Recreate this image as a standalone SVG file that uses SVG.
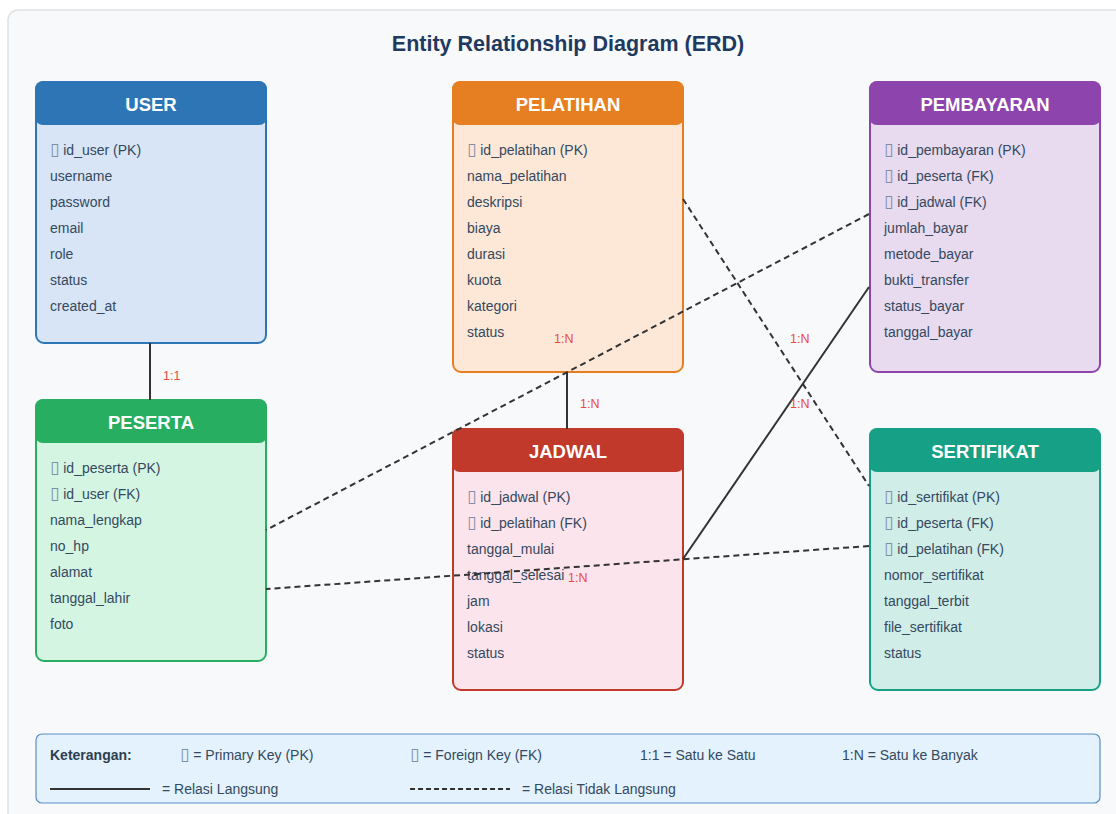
<svg xmlns="http://www.w3.org/2000/svg" width="1116" height="814" viewBox="0 0 1116 814">
<style>
.title{font-family:"Liberation Sans",Arial,sans-serif;font-size:21.5px;font-weight:bold;fill:#1f3a5f}
.hdr{font-family:"Liberation Sans",Arial,sans-serif;font-size:18.5px;font-weight:bold;fill:#ffffff}
.row{font-family:"Liberation Sans",Arial,sans-serif;font-size:14px;fill:#34495e}
.lbl{font-family:"Liberation Sans",Arial,sans-serif;font-size:12.5px;fill:#e74c3c}
.leg{font-family:"Liberation Sans",Arial,sans-serif;font-size:14px;fill:#34495e}
.legb{font-family:"Liberation Sans",Arial,sans-serif;font-size:14px;font-weight:bold;fill:#2c3e50}
.k{font-family:"DejaVu Sans",sans-serif;fill:#7f8fa6;font-size:17px}
.solid{stroke:#333;stroke-width:2;fill:none}
.dash{stroke:#333;stroke-width:2;fill:none;stroke-dasharray:6,4}
</style>
<rect x="0" y="0" width="1116" height="814" fill="#ffffff"/>
<rect x="8" y="10" width="1130" height="830" rx="10" fill="#f8f9fa" stroke="#dee2e6" stroke-width="1.5"/>
<text class="title" x="568" y="51" text-anchor="middle">Entity Relationship Diagram (ERD)</text>

<g id="user">
<rect x="36" y="82" width="230" height="261" rx="8" fill="#d7e5f6" stroke="#2e75b6" stroke-width="2"/>
<rect x="35" y="81" width="232" height="44" rx="8" fill="#2e75b6"/>
<text class="hdr" x="151" y="111" text-anchor="middle">USER</text>
<text class="row" x="50" y="155"><tspan class="k">▯</tspan> id_user (PK)</text>
<text class="row" x="50" y="181">username</text>
<text class="row" x="50" y="207">password</text>
<text class="row" x="50" y="233">email</text>
<text class="row" x="50" y="259">role</text>
<text class="row" x="50" y="285">status</text>
<text class="row" x="50" y="311">created_at</text>
</g>

<g id="pelatihan">
<rect x="453" y="82" width="230" height="290" rx="8" fill="#fde8d8" stroke="#e67e22" stroke-width="2"/>
<rect x="452" y="81" width="232" height="44" rx="8" fill="#e67e22"/>
<text class="hdr" x="568" y="111" text-anchor="middle">PELATIHAN</text>
<text class="row" x="467" y="155"><tspan class="k">▯</tspan> id_pelatihan (PK)</text>
<text class="row" x="467" y="181">nama_pelatihan</text>
<text class="row" x="467" y="207">deskripsi</text>
<text class="row" x="467" y="233">biaya</text>
<text class="row" x="467" y="259">durasi</text>
<text class="row" x="467" y="285">kuota</text>
<text class="row" x="467" y="311">kategori</text>
<text class="row" x="467" y="337">status</text>
</g>

<g id="pembayaran">
<rect x="870" y="82" width="230" height="290" rx="8" fill="#e8daef" stroke="#8e44ad" stroke-width="2"/>
<rect x="869" y="81" width="232" height="44" rx="8" fill="#8e44ad"/>
<text class="hdr" x="985" y="111" text-anchor="middle">PEMBAYARAN</text>
<text class="row" x="884" y="155"><tspan class="k">▯</tspan> id_pembayaran (PK)</text>
<text class="row" x="884" y="181"><tspan class="k">▯</tspan> id_peserta (FK)</text>
<text class="row" x="884" y="207"><tspan class="k">▯</tspan> id_jadwal (FK)</text>
<text class="row" x="884" y="233">jumlah_bayar</text>
<text class="row" x="884" y="259">metode_bayar</text>
<text class="row" x="884" y="285">bukti_transfer</text>
<text class="row" x="884" y="311">status_bayar</text>
<text class="row" x="884" y="337">tanggal_bayar</text>
</g>

<g id="peserta">
<rect x="36" y="400" width="230" height="261" rx="8" fill="#d5f5e3" stroke="#27ae60" stroke-width="2"/>
<rect x="35" y="399" width="232" height="44" rx="8" fill="#27ae60"/>
<text class="hdr" x="151" y="429" text-anchor="middle">PESERTA</text>
<text class="row" x="50" y="473"><tspan class="k">▯</tspan> id_peserta (PK)</text>
<text class="row" x="50" y="499"><tspan class="k">▯</tspan> id_user (FK)</text>
<text class="row" x="50" y="525">nama_lengkap</text>
<text class="row" x="50" y="551">no_hp</text>
<text class="row" x="50" y="577">alamat</text>
<text class="row" x="50" y="603">tanggal_lahir</text>
<text class="row" x="50" y="629">foto</text>
</g>

<g id="jadwal">
<rect x="453" y="429" width="230" height="261" rx="8" fill="#fce4ec" stroke="#c0392b" stroke-width="2"/>
<rect x="452" y="428" width="232" height="44" rx="8" fill="#c0392b"/>
<text class="hdr" x="568" y="458" text-anchor="middle">JADWAL</text>
<text class="row" x="467" y="502"><tspan class="k">▯</tspan> id_jadwal (PK)</text>
<text class="row" x="467" y="528"><tspan class="k">▯</tspan> id_pelatihan (FK)</text>
<text class="row" x="467" y="554">tanggal_mulai</text>
<text class="row" x="467" y="580">tanggal_selesai</text>
<text class="row" x="467" y="606">jam</text>
<text class="row" x="467" y="632">lokasi</text>
<text class="row" x="467" y="658">status</text>
</g>

<g id="sertifikat">
<rect x="870" y="429" width="230" height="261" rx="8" fill="#d1ede8" stroke="#16a085" stroke-width="2"/>
<rect x="869" y="428" width="232" height="44" rx="8" fill="#16a085"/>
<text class="hdr" x="985" y="458" text-anchor="middle">SERTIFIKAT</text>
<text class="row" x="884" y="502"><tspan class="k">▯</tspan> id_sertifikat (PK)</text>
<text class="row" x="884" y="528"><tspan class="k">▯</tspan> id_peserta (FK)</text>
<text class="row" x="884" y="554"><tspan class="k">▯</tspan> id_pelatihan (FK)</text>
<text class="row" x="884" y="580">nomor_sertifikat</text>
<text class="row" x="884" y="606">tanggal_terbit</text>
<text class="row" x="884" y="632">file_sertifikat</text>
<text class="row" x="884" y="658">status</text>
</g>

<g id="connectors">
<line class="solid" x1="150" y1="343" x2="150" y2="400"/>
<text class="lbl" x="163" y="380">1:1</text>
<line class="solid" x1="567" y1="372" x2="567" y2="429"/>
<text class="lbl" x="580" y="408">1:N</text>
<line class="dash" x1="869" y1="214" x2="266" y2="530"/>
<text class="lbl" x="554" y="343">1:N</text>
<line class="dash" x1="683" y1="199" x2="869" y2="486"/>
<text class="lbl" x="790" y="343">1:N</text>
<line class="solid" x1="869" y1="287" x2="683" y2="559"/>
<text class="lbl" x="790" y="408">1:N</text>
<line class="dash" x1="869" y1="546" x2="266" y2="589"/>
<text class="lbl" x="568" y="582">1:N</text>
</g>

<g id="legend">
<rect x="36" y="734" width="1064" height="69" rx="6" fill="#e3f2fd" stroke="#5b8fc9" stroke-width="1.2"/>
<text class="legb" x="50" y="760">Keterangan:</text>
<text class="leg" x="180" y="760"><tspan class="k">▯</tspan> = Primary Key (PK)</text>
<text class="leg" x="410" y="760"><tspan class="k">▯</tspan> = Foreign Key (FK)</text>
<text class="leg" x="640" y="760">1:1 = Satu ke Satu</text>
<text class="leg" x="842" y="760">1:N = Satu ke Banyak</text>
<line class="solid" x1="50" y1="789" x2="150" y2="789"/>
<text class="leg" x="162" y="794">= Relasi Langsung</text>
<line class="dash" x1="410" y1="789" x2="510" y2="789" style="stroke-dasharray:5,3"/>
<text class="leg" x="522" y="794">= Relasi Tidak Langsung</text>
</g>
</svg>
